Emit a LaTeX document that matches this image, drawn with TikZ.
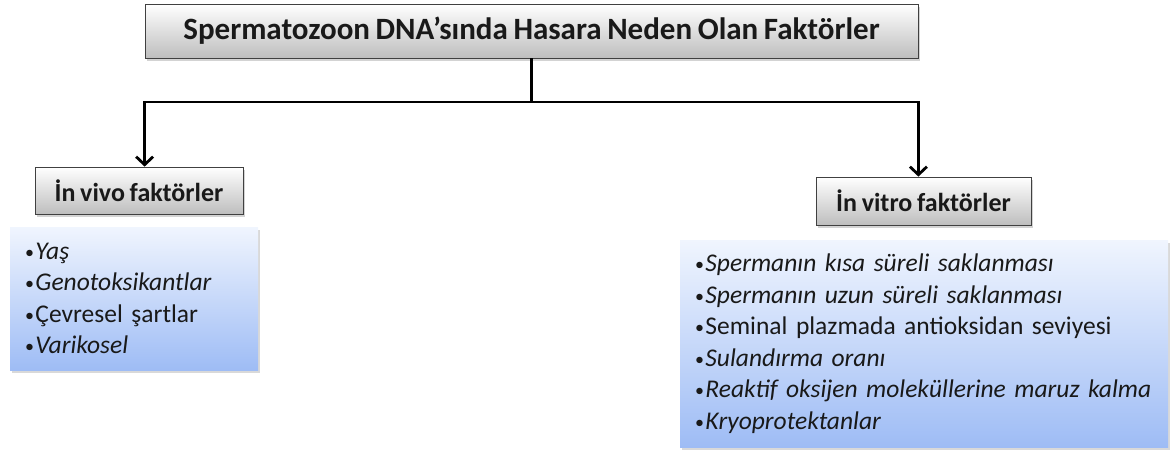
\documentclass[tikz,border=0pt]{standalone}
\usepackage{fontspec}
\setmainfont{Carlito}[WordSpace={0.8,0,0}]
\usetikzlibrary{arrows.meta,shadows}
\tikzset{>={Straight Barb[length=8pt,width=17pt]}}

\definecolor{boxgray}{RGB}{190,190,190}
\definecolor{listtop}{RGB}{240,245,254}
\definecolor{listbottom}{RGB}{158,188,245}
\definecolor{ink}{RGB}{25,25,25}

\newcommand{\bul}{\raisebox{1pt}{\fontsize{18}{18}\selectfont•}\kern1.5pt}

\tikzset{
  headbox/.style={draw=black!75,line width=.8pt,top color=white,bottom color=boxgray,
    drop shadow={opacity=.35,shadow xshift=2pt,shadow yshift=-3pt},
    text=ink,inner sep=0pt},
  listbox/.style={top color=listtop,bottom color=listbottom,
    drop shadow={opacity=.3,shadow xshift=2pt,shadow yshift=-3pt},
    text=ink,align=left,inner xsep=15pt,inner ysep=0pt,
    font=\fontsize{25.5}{31.5}\selectfont},
  link/.style={line width=2.8pt}
}

\begin{document}
\begin{tikzpicture}[x=1pt,y=-1pt]
\useasboundingbox (0,0) rectangle (1171,452);

\node[headbox,minimum width=773pt,minimum height=54pt,
  font=\bfseries\fontsize{31}{34}\selectfont] (title) at (531.5,31)
  {Spermatozoon DNA’sında Hasara Neden Olan Faktörler};

\node[headbox,minimum width=208pt,minimum height=47pt,
  font=\bfseries\fontsize{26}{30}\selectfont] (vivo) at (139,190.5)
  {İn vivo faktörler};
\node[headbox,minimum width=215pt,minimum height=48pt,
  font=\bfseries\fontsize{26}{30}\selectfont] (vitro) at (923.5,201)
  {İn vitro faktörler};

\node[listbox,text width=218pt,minimum height=143pt] (vivolist) at (134,298.5)
  {\bul\textit{Yaş}\\
   \bul\textit{Genotoksikantlar}\\
   \bul Çevresel şartlar\\
   \bul\textit{Varikosel}};
\node[listbox,text width=458pt,minimum height=207pt] (vitrolist) at (924,343.5)
  {\bul\textit{Spermanın kısa süreli saklanması}\\
   \bul\textit{Spermanın uzun süreli saklanması}\\
   \bul Seminal plazmada antioksidan seviyesi\\
   \bul\textit{Sulandırma oranı}\\
   \bul\textit{Reaktif oksijen moleküllerine maruz kalma}\\
   \bul\textit{Kryoprotektanlar}};

\coordinate (hub) at (531.5,102);
\draw[link] (title.south) -- (hub);
\draw[link,->] (hub) -| (title.west |- vivo.north);
\draw[link,->] (hub) -| (title.east |- vitro.north);
\end{tikzpicture}
\end{document}
